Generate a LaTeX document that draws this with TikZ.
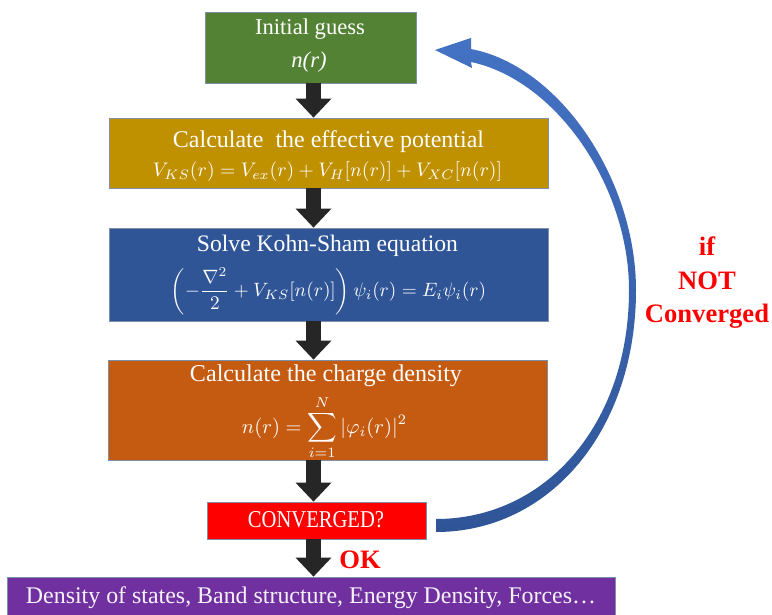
\documentclass[tikz,border=0pt]{standalone}
\usepackage{fontspec}
\usepackage{amsmath}
\usepackage{graphicx}
\setmainfont{Liberation Serif}
\usetikzlibrary{arrows.meta}

\definecolor{initgreen}{HTML}{548235}
\definecolor{potgold}{HTML}{BF9000}
\definecolor{ksblue}{HTML}{2F5597}
\definecolor{densorange}{HTML}{C55A11}
\definecolor{convred}{HTML}{FF0000}
\definecolor{outpurple}{HTML}{7030A0}
\definecolor{flowgray}{HTML}{262626}
\definecolor{loopblue}{HTML}{4472C4}
\definecolor{loopdark}{HTML}{2F5597}
\definecolor{edgegray}{HTML}{7F8FA6}
\definecolor{warnred}{HTML}{FF0000}
\definecolor{softwhite}{HTML}{F6F2FA}

% scale a line of box text to a given width
\newcommand{\fitto}[2]{\resizebox{#1}{!}{#2}}

\begin{document}
\begin{tikzpicture}[x=1pt,y=-1pt,
  stepbox/.style={draw=edgegray,line width=0.8pt,inner sep=0pt,rectangle},
  flow/.style={draw=flowgray,line width=15pt,
    -{Triangle[width=36pt,length=19pt,line width=0pt]}},
  lbl/.style={text=white,inner sep=0pt},
  warn/.style={text=warnred,inner sep=0pt,
    font=\fontsize{26.6}{33.5}\selectfont\bfseries}]
\useasboundingbox (0,0) rectangle (772,615);

% process boxes
\node[stepbox,fill=initgreen,minimum width=211pt,minimum height=71pt] (init) at (310.5,47.5) {};
\node[stepbox,fill=potgold,minimum width=439pt,minimum height=70pt] (pot) at (328.5,153) {};
\node[stepbox,fill=ksblue,minimum width=439pt,minimum height=93pt] (ks) at (328.5,274.5) {};
\node[stepbox,fill=densorange,minimum width=439pt,minimum height=100pt] (dens) at (327.5,410) {};
\node[stepbox,fill=convred,minimum width=219pt,minimum height=37pt] (conv) at (316.5,520.5) {};
\node[stepbox,fill=outpurple,minimum width=608pt,minimum height=50pt] (out) at (311,602) {};

% box texts
\node[lbl,font=\fontsize{22.6}{26}\selectfont] (initA) at (310,29) {Initial guess};
\node[lbl,font=\fontsize{22.6}{26}\selectfont\itshape] (initB) at (309,62) {n(r)};

\node[lbl] (potA) at (328.5,142) {\fitto{311pt}{Calculate\ \ the effective potential}};
\node[lbl] (potB) at (327.5,171.5) {\fitto{349pt}{$V_{KS}(r)=V_{ex}(r)+V_H[n(r)]+V_{XC}[n(r)]$}};

% the two displayed formulas are smashed, so their nodes sit on the baseline
\node[lbl] (ksA) at (327.5,245.5) {\fitto{261pt}{Solve Kohn-Sham equation}};
\node[lbl] (ksB) at (328.5,296.5) {\fitto{315pt}{\smash{$\left(-\dfrac{\nabla^2}{2}+V_{KS}[n(r)]\right)\psi_i(r)=E_i\psi_i(r)$}}};

\node[lbl] (densA) at (326,375.5) {\fitto{272pt}{Calculate the charge density}};
\node[lbl] (densB) at (324.5,433) {\fitto{165pt}{\smash{$\displaystyle n(r)=\sum_{i=1}^{N}|\varphi_i(r)|^2$}}};

\node[lbl] (convA) at (316,520) {\resizebox{136pt}{16pt}{CONVERGED?}};
\node[lbl,text=softwhite] (outA) at (311,598) {\fitto{570pt}{Density of states, Band structure, Energy Density, Forces…}};

% straight flow arrows
\coordinate (ax) at (313.5,0);
\draw[flow] (init.south -| ax) -- (pot.north -| ax);
\draw[flow] (pot.south -| ax) -- (ks.north -| ax);
\draw[flow] (ks.south -| ax) -- (dens.north -| ax);
\draw[flow] (dens.south -| ax) -- (conv.north -| ax);
\draw[flow] (conv.south -| ax) -- (out.north -| ax);

% feedback loop arrow
\shade[top color=loopblue,bottom color=loopdark]
  (471,49) .. controls (560,66) and (636,180) .. (636,290)
  .. controls (636,430) and (550,532) .. (436,532)
  -- (436,519)
  .. controls (545,519) and (629,425) .. (629,290)
  .. controls (629,186) and (556,80) .. (471,62)
  -- (472,68) -- (435,50) -- (471,38) -- cycle;

% decision labels
\node[warn] (ok) at (360,560) {OK};
\node[warn,align=center] (notconv) at (707,283) {if\\NOT\\Converged};
\end{tikzpicture}
\end{document}
